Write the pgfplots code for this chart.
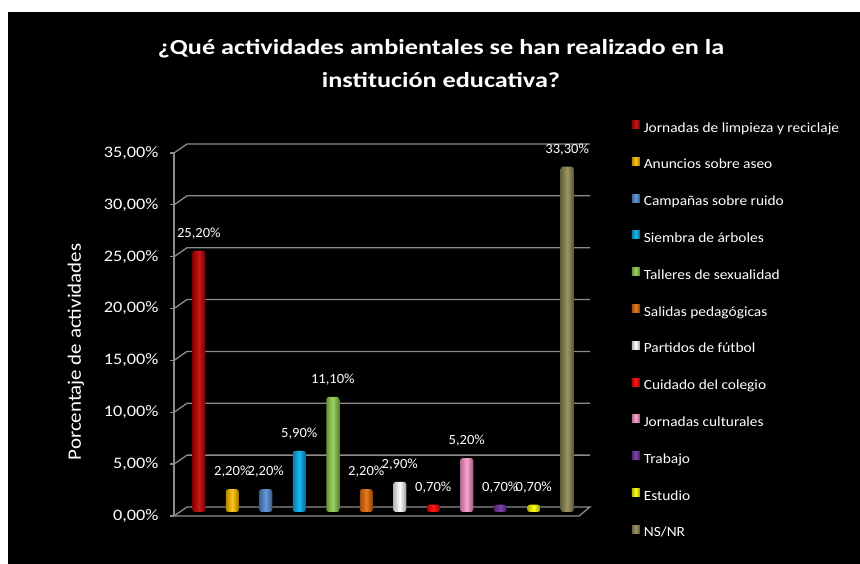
\documentclass[border=0pt]{standalone}
\usepackage{pgfplots}
\pgfplotsset{compat=1.18}
\usepackage{fontspec}
\setmainfont{Carlito}
\newfontfamily\titlefont[FakeStretch=1.22]{Carlito}
\newfontfamily\legfont[FakeStretch=1.1]{Carlito}
\newfontfamily\tickfont[FakeStretch=1.14]{Carlito}
\newfontfamily\labfont[FakeStretch=1.04]{Carlito}
\newfontfamily\ylabfont[FakeStretch=1.1]{Carlito}
\definecolor{c1}{HTML}{C00000}
\definecolor{c2}{HTML}{FFC000}
\definecolor{c3}{HTML}{558ED5}
\definecolor{c4}{HTML}{00B0F0}
\definecolor{c5}{HTML}{92D050}
\definecolor{c6}{HTML}{E36C09}
\definecolor{c7}{HTML}{FFFFFF}
\definecolor{c8}{HTML}{FF0000}
\definecolor{c9}{HTML}{FF99CC}
\definecolor{c10}{HTML}{7030A0}
\definecolor{c11}{HTML}{FFFF00}
\definecolor{c12}{HTML}{948A54}
\definecolor{gridgray}{HTML}{8C8C8C}
\tikzset{cyl/.style={draw=none, rounded corners=2.5pt, left color=#1!70!black, right color=#1!60!black, middle color=#1!90!white}}
\begin{document}
\begin{tikzpicture}[x=1pt,y=1pt]
\useasboundingbox (0,0) rectangle (860,564);
\fill[white] (0,0) rectangle (860,564);
\fill[black] (8,0) rectangle (860,552);
\node[text=white, font=\titlefont\bfseries\fontsize{21.5}{33}\selectfont, align=center] at (441,500.5) {¿Qué actividades ambientales se han realizado en la\\institución educativa?};
\node[text=white, rotate=90, font=\ylabfont\fontsize{19}{21}\selectfont] at (76,212) {Porcentaje de actividades};
\begin{axis}[
  at={(174pt,48pt)}, anchor=south west, scale only axis,
  width=416pt, height=363pt,
  xmin=-0.741, xmax=11.68, ymin=0, ymax=35, clip=false,
  axis x line=none, axis y line*=left,
  y axis line style={gridgray, line width=1.3pt, -},
  ytick={0,5,...,35},
  yticklabels={{0,00\%},{5,00\%},{10,00\%},{15,00\%},{20,00\%},{25,00\%},{30,00\%},{35,00\%}},
  yticklabel style={text=white, font=\tickfont\fontsize{16}{18}\selectfont, xshift=-8pt},
  major tick length=4pt, tick align=outside,
  ytick style={gridgray, line width=1.3pt},
  every axis plot post/.append style={legend image code/.code={\fill[##1, rounded corners=0pt] (0pt,-4pt) rectangle (8pt,4pt);}},
  legend cell align=left,
  legend style={at={(axis description cs:1.1,1.09)}, anchor=north west, draw=none, fill=none,
    text=white, font=\legfont\fontsize{14}{16}\selectfont, row sep=22.3pt, inner sep=0pt,
    nodes={inner sep=0pt, text height=10pt, text depth=3pt},
    /tikz/every odd column/.append style={column sep=4pt}},
  nodes near coords style={text=white, font=\labfont\fontsize{14}{16}\selectfont, yshift=8pt},
]
\pgfplotsinvokeforeach{5,10,...,35}{
  \draw[gridgray, line width=1.3pt] (axis cs:-0.741,#1) -- ++(13pt,9pt) -- ([yshift=9pt]axis cs:11.68,#1);
}
\draw[gridgray, line width=1.3pt] (axis cs:-0.741,0) -- ++(13pt,9pt) -- ([yshift=9pt]axis cs:11.68,0) -- ++(-11pt,-9pt) -- cycle;
\addplot[ybar, bar width=13pt, bar shift=0pt, cyl=c1, yshift=4pt, nodes near coords={25,20\%}] coordinates {(0,25.2)};
\addplot[ybar, bar width=13pt, bar shift=0pt, cyl=c2, yshift=4pt, nodes near coords={2,20\%}] coordinates {(1,2.2)};
\addplot[ybar, bar width=13pt, bar shift=0pt, cyl=c3, yshift=4pt, nodes near coords={2,20\%}] coordinates {(2,2.2)};
\addplot[ybar, bar width=13pt, bar shift=0pt, cyl=c4, yshift=4pt, nodes near coords={5,90\%}] coordinates {(3,5.9)};
\addplot[ybar, bar width=13pt, bar shift=0pt, cyl=c5, yshift=4pt, nodes near coords={11,10\%}] coordinates {(4,11.1)};
\addplot[ybar, bar width=13pt, bar shift=0pt, cyl=c6, yshift=4pt, nodes near coords={2,20\%}] coordinates {(5,2.2)};
\addplot[ybar, bar width=13pt, bar shift=0pt, cyl=c7, yshift=4pt, nodes near coords={2,90\%}] coordinates {(6,2.9)};
\addplot[ybar, bar width=13pt, bar shift=0pt, cyl=c8, yshift=4pt, nodes near coords={0,70\%}] coordinates {(7,0.7)};
\addplot[ybar, bar width=13pt, bar shift=0pt, cyl=c9, yshift=4pt, nodes near coords={5,20\%}] coordinates {(8,5.2)};
\addplot[ybar, bar width=13pt, bar shift=0pt, cyl=c10, yshift=4pt, nodes near coords={0,70\%}] coordinates {(9,0.7)};
\addplot[ybar, bar width=13pt, bar shift=0pt, cyl=c11, yshift=4pt, nodes near coords={0,70\%}] coordinates {(10,0.7)};
\addplot[ybar, bar width=13pt, bar shift=0pt, cyl=c12, yshift=4pt, nodes near coords={33,30\%}] coordinates {(11,33.3)};
\legend{Jornadas de limpieza y reciclaje, Anuncios sobre aseo, Campañas sobre ruido, Siembra de árboles, Talleres de sexualidad, Salidas pedagógicas, Partidos de fútbol, Cuidado del colegio, Jornadas culturales, Trabajo, Estudio, NS/NR}
\end{axis}
\end{tikzpicture}
\end{document}
